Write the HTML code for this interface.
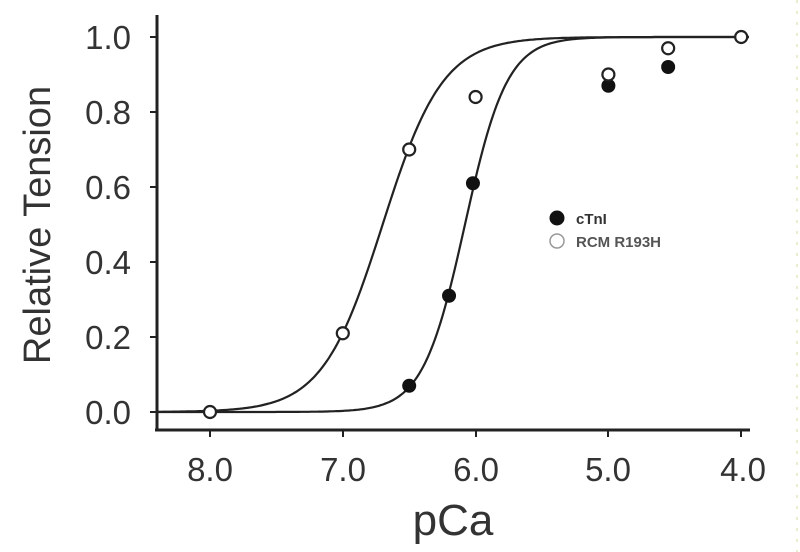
<!DOCTYPE html>
<html><head><meta charset="utf-8"><style>
html,body{margin:0;padding:0;background:#fff;}
svg{display:block;font-family:"Liberation Sans",Arial,sans-serif;}
</style></head><body>
<svg id="s" width="800" height="552" viewBox="0 0 800 552">
<g stroke="#222" stroke-width="3" fill="none">
<line x1="157" y1="15" x2="157" y2="431"/>
<line x1="155" y1="430" x2="750" y2="430"/>
</g>
<g stroke="#222" stroke-width="2">
<line x1="150" y1="37" x2="157" y2="37"/><line x1="150" y1="112" x2="157" y2="112"/>
<line x1="150" y1="187" x2="157" y2="187"/><line x1="150" y1="262" x2="157" y2="262"/>
<line x1="150" y1="337" x2="157" y2="337"/><line x1="150" y1="412" x2="157" y2="412"/>
<line x1="210" y1="430" x2="210" y2="437"/><line x1="343" y1="430" x2="343" y2="437"/>
<line x1="476" y1="430" x2="476" y2="437"/><line x1="608" y1="430" x2="608" y2="437"/>
<line x1="741" y1="430" x2="741" y2="437"/>
</g>
<g font-size="33" fill="#333" text-anchor="end">
<text x="131" y="49">1.0</text><text x="131" y="124">0.8</text><text x="131" y="199">0.6</text>
<text x="131" y="274">0.4</text><text x="131" y="349">0.2</text><text x="131" y="424">0.0</text>
</g>
<g font-size="33" fill="#333" text-anchor="middle">
<text x="210" y="481">8.0</text><text x="343" y="481">7.0</text><text x="476" y="481">6.0</text>
<text x="608" y="481">5.0</text><text x="743" y="481">4.0</text>
</g>
<text x="453" y="535" font-size="44" fill="#333" text-anchor="middle">pCa</text>
<text transform="translate(50,225) rotate(-90)" font-size="38" fill="#333" text-anchor="middle">Relative Tension</text>
<path id="c1" fill="none" stroke="#222" stroke-width="2.2"/>
<path id="c2" fill="none" stroke="#222" stroke-width="2.2"/>
<g id="pts"></g>
<circle cx="557" cy="218" r="7.5" fill="#111"/>
<text x="576" y="224" font-size="15" font-weight="bold" fill="#333">cTnI</text>
<circle cx="557" cy="241" r="7" fill="#fff" stroke="#999" stroke-width="1.5"/>
<text x="576" y="247" font-size="15" font-weight="bold" fill="#555">RCM R193H</text>
<line x1="797" y1="0" x2="797" y2="552" stroke="#d8d8a0" stroke-width="1" stroke-dasharray="3,8"/>
</svg>
<script>
function X(p){return 210+(8-p)*132.8;}
function Y(v){return 412-v*375;}
function curve(mid,k){var d="";for(var px=157;px<=750;px+=2){var p=8-(px-210)/132.8;var v=1/(1+Math.exp(-k*(mid-p)));d+=(d?"L":"M")+px+","+Y(v).toFixed(1);}return d;}
document.getElementById("c1").setAttribute("d",curve(6.70,4.4));
document.getElementById("c2").setAttribute("d",curve(6.08,6.3));
var g=document.getElementById("pts"),h="";
[[6.5,0.07],[6.2,0.31],[6.02,0.61],[5.0,0.87],[4.55,0.92]].forEach(function(a){h+='<circle cx="'+X(a[0])+'" cy="'+Y(a[1])+'" r="7" fill="#111"/>';});
[[8.0,0.0],[7.0,0.21],[6.5,0.70],[6.0,0.84],[5.0,0.90],[4.55,0.97],[4.0,1.0]].forEach(function(a){h+='<circle cx="'+X(a[0])+'" cy="'+Y(a[1])+'" r="6" fill="#fff" stroke="#222" stroke-width="2.2"/>';});
g.innerHTML=h;
</script>
</body></html>
